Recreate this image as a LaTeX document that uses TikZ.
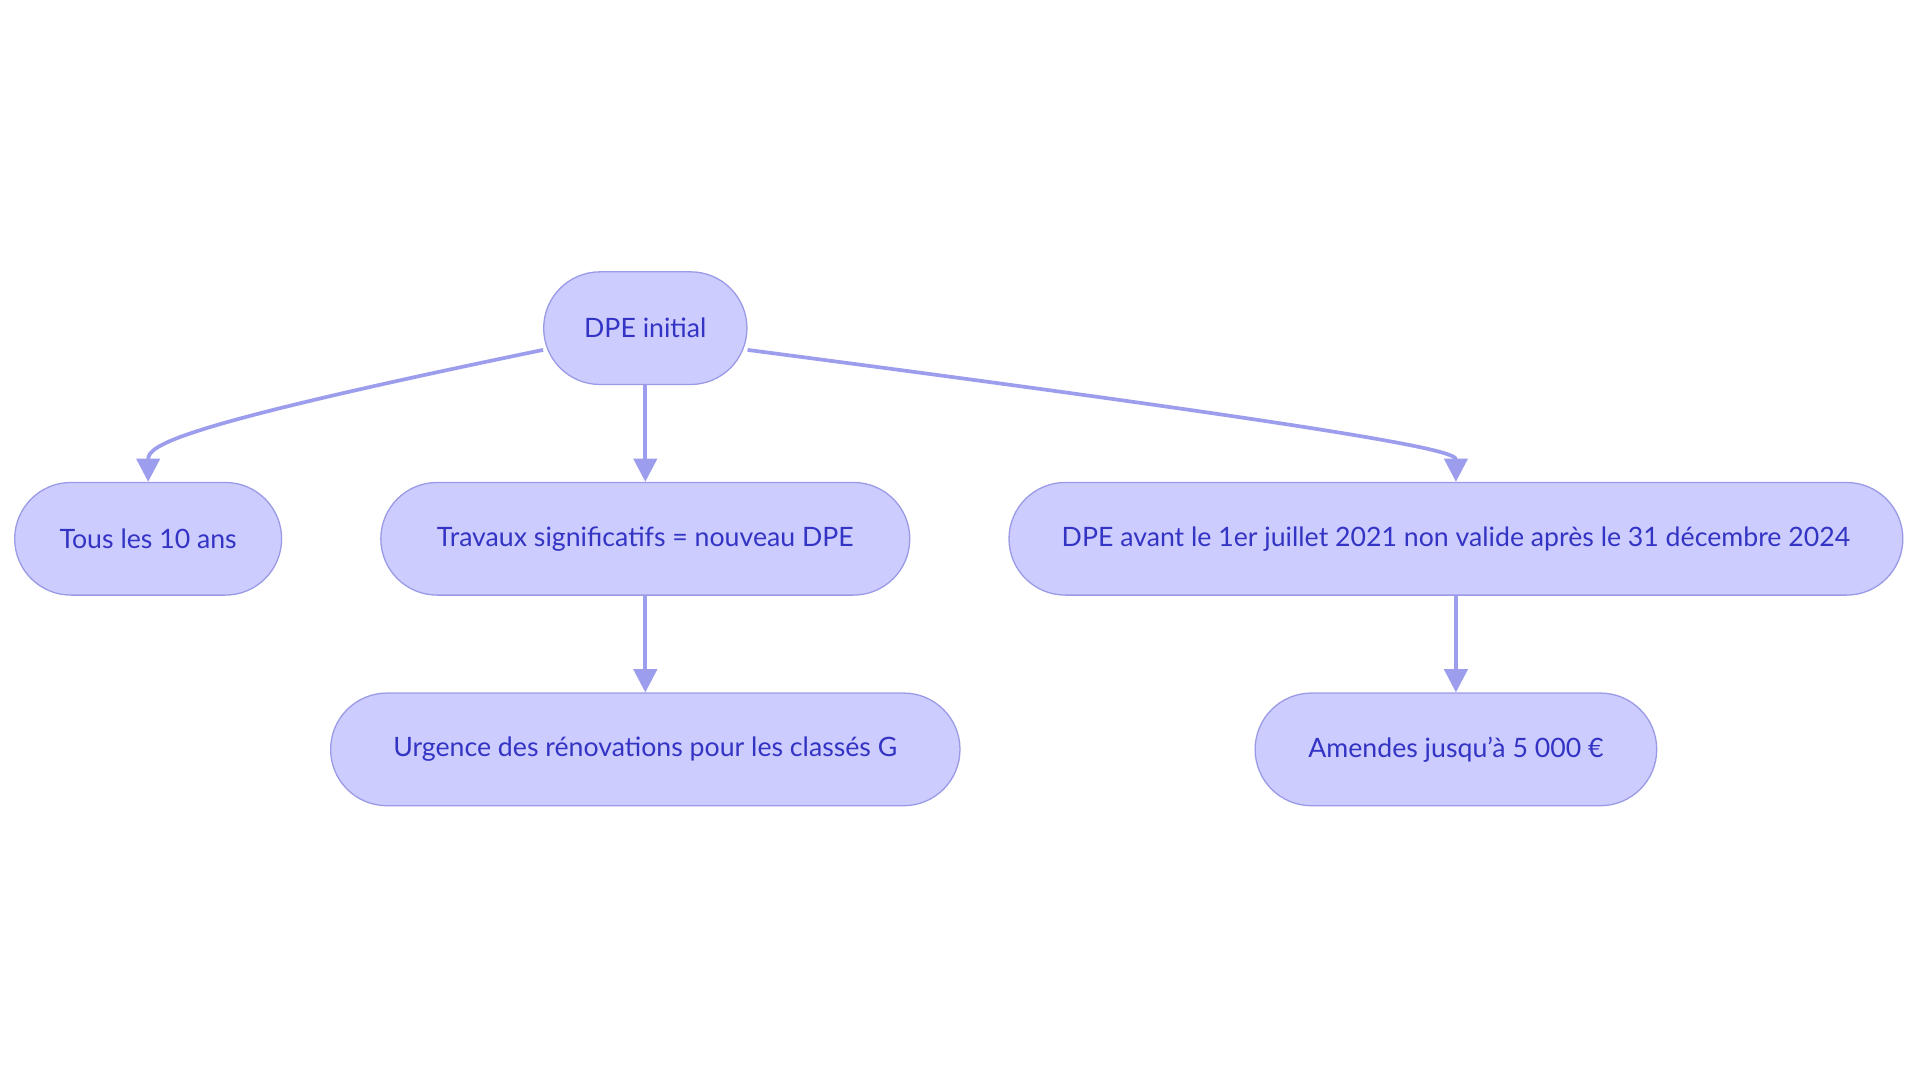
\documentclass[tikz,border=0pt]{standalone}
\usepackage{fontspec}
\setmainfont{Lato}
\usetikzlibrary{arrows.meta}
\definecolor{boxfill}{HTML}{CCCCFF}
\definecolor{boxline}{HTML}{9A9AE6}
\definecolor{boxtext}{HTML}{3434C4}
\definecolor{edgecol}{HTML}{9D9DEE}
\tikzset{
  box/.style={draw=boxline, fill=boxfill, line width=1.5pt, rounded corners=2.3cm,
    minimum height=4.6cm, text=boxtext, font=\fontsize{31}{36}\selectfont, inner sep=0pt},
  edge/.style={draw=edgecol, line width=4.3pt, -{Triangle[length=0.95cm,width=0.95cm]}}
}
\begin{document}
\begin{tikzpicture}[x=0.05cm,y=-0.05cm]
\useasboundingbox[fill=white] (0,0) rectangle (1568,884);
\node[box, minimum width=8.3cm] (root) at (527,268) {DPE initial};
\node[box, minimum width=10.9cm] (tous) at (121,440) {Tous les 10 ans};
\node[box, minimum width=21.6cm] (travaux) at (527,440) {Travaux significatifs = nouveau DPE};
\node[box, minimum width=36.5cm] (avant) at (1189,440) {DPE avant le 1er juillet 2021 non valide après le 31 décembre 2024};
\node[box, minimum width=25.7cm] (urgence) at (527,612) {Urgence des rénovations pour les classés G};
\node[box, minimum width=16.4cm] (amendes) at (1189,612) {Amendes jusqu'à 5 000 €};

\draw[edge] (root.192) .. controls +(-300,62) and +(0,-30) .. (tous.north);
\draw[edge] (root) -- (travaux);
\draw[edge] (root.-12) .. controls +(520,68) and +(0,-25) .. (avant.north);
\draw[edge] (travaux) -- (urgence);
\draw[edge] (avant) -- (amendes);
\end{tikzpicture}
\end{document}
